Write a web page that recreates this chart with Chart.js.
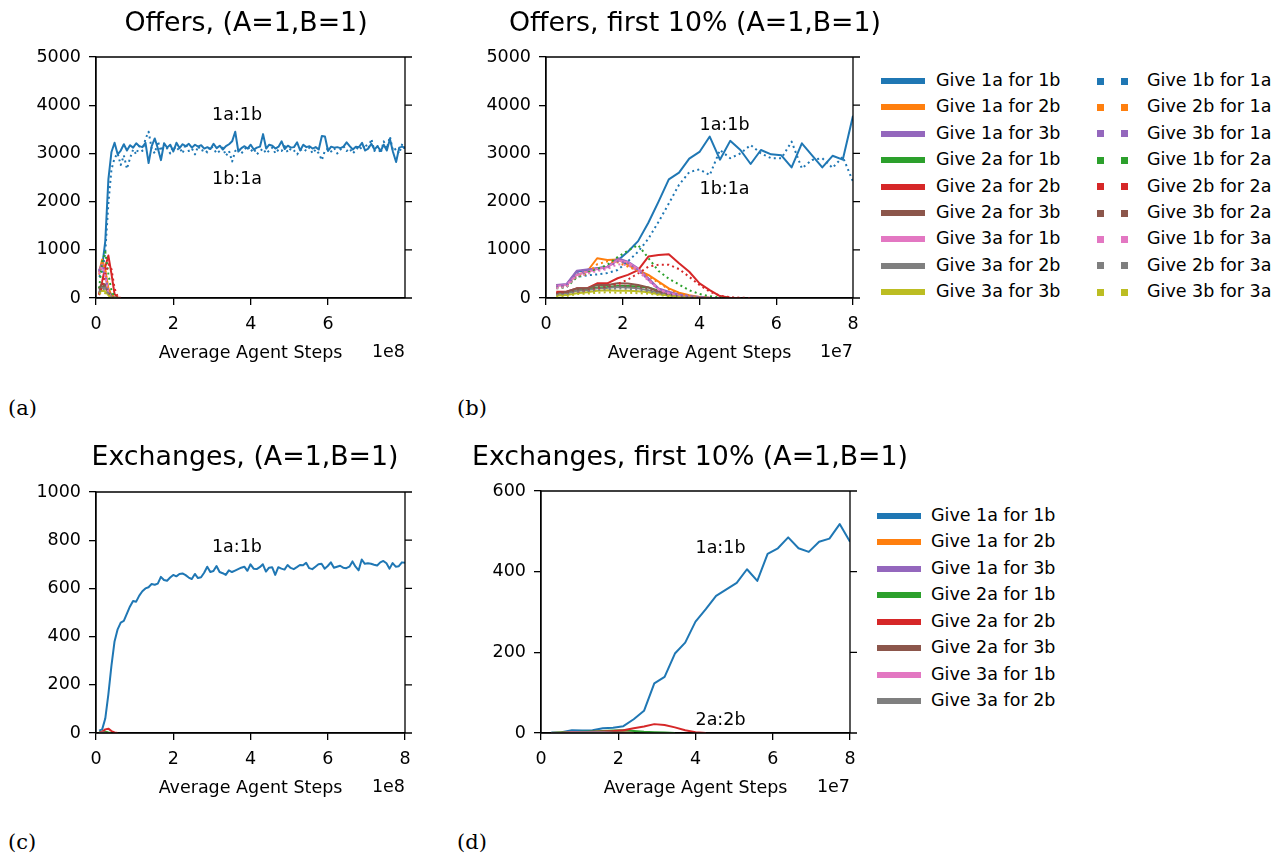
<!DOCTYPE html>
<html>
<head>
<meta charset="utf-8">
<script src="https://cdn.jsdelivr.net/npm/chart.js@4.4.1/dist/chart.umd.min.js"></script>
<style>
body { margin: 0; background: #fff; font-family: 'DejaVu Sans', sans-serif; color: #000; }
#fig { position: relative; width: 1288px; height: 862px; overflow: hidden; }
canvas { position: absolute; }
.t { position: absolute; white-space: nowrap; line-height: 1; }
.title { font-size: 26.8px; transform: translate(-50%, -50%); }
.off { font-size: 17.5px; transform: translate(-100%, -50%); }
.tag { font-family: 'DejaVu Serif', serif; font-size: 21px; transform: translateY(-50%); }
.lt { font-size: 17.5px; transform: translateY(-50%); }
.sw { position: absolute; }
</style>
</head>
<body>
<div id="fig">
  <canvas id="ca" width="430" height="333" style="left:0px;top:35px"></canvas>
  <canvas id="cb" width="425" height="333" style="left:450px;top:35px"></canvas>
  <canvas id="cc" width="430" height="333" style="left:0px;top:470px"></canvas>
  <canvas id="cd" width="425" height="334" style="left:445px;top:469px"></canvas>

  <div class="t title" style="left:246px;top:22px">Offers, (A=1,B=1)</div>
  <div class="t title" style="left:695px;top:22px">Offers, first 10% (A=1,B=1)</div>
  <div class="t title" style="left:245px;top:456px">Exchanges, (A=1,B=1)</div>
  <div class="t title" style="left:690px;top:456px">Exchanges, first 10% (A=1,B=1)</div>

  <div class="t off" style="left:405px;top:352px">1e8</div>
  <div class="t off" style="left:853px;top:352px">1e7</div>
  <div class="t off" style="left:405px;top:787px">1e8</div>
  <div class="t off" style="left:850px;top:787px">1e7</div>

  <div class="t tag" style="left:8px;top:408px">(a)</div>
  <div class="t tag" style="left:457px;top:408px">(b)</div>
  <div class="t tag" style="left:8px;top:842px">(c)</div>
  <div class="t tag" style="left:457px;top:842px">(d)</div>
  <div id="legends"></div>
</div>
<script>
// x positions of the samples (full run in 1e8, first 10% in 1e7)
var STEPS_FULL = [0.08, 0.16, 0.24, 0.32, 0.4, 0.48, 0.56, 0.64, 0.72, 0.8,
  0.88, 0.96, 1.04, 1.12, 1.2, 1.28, 1.36, 1.44, 1.52, 1.6,
  1.68, 1.76, 1.84, 1.92, 2.0, 2.08, 2.16, 2.24, 2.32, 2.4,
  2.48, 2.56, 2.64, 2.72, 2.8, 2.88, 2.96, 3.04, 3.12, 3.2,
  3.28, 3.36, 3.44, 3.52, 3.6, 3.68, 3.76, 3.84, 3.92, 4.0,
  4.08, 4.16, 4.24, 4.32, 4.4, 4.48, 4.56, 4.64, 4.72, 4.8,
  4.88, 4.96, 5.04, 5.12, 5.2, 5.28, 5.36, 5.44, 5.52, 5.6,
  5.68, 5.76, 5.84, 5.92, 6.0, 6.08, 6.16, 6.24, 6.32, 6.4,
  6.48, 6.56, 6.64, 6.72, 6.8, 6.88, 6.96, 7.04, 7.12, 7.2,
  7.28, 7.36, 7.44, 7.52, 7.6, 7.68, 7.76, 7.84, 7.92, 8.0];
var STEPS_FIRST = [0.267, 0.533, 0.8, 1.067, 1.333, 1.6, 1.867, 2.133, 2.4, 2.667,
  2.933, 3.2, 3.467, 3.733, 4.0, 4.267, 4.533, 4.8, 5.067, 5.333,
  5.6, 5.867, 6.133, 6.4, 6.667, 6.933, 7.2, 7.467, 7.733, 8.0];

var SOLID_NAMES = ['Give 1a for 1b', 'Give 1a for 2b', 'Give 1a for 3b', 'Give 2a for 1b', 'Give 2a for 2b',
  'Give 2a for 3b', 'Give 3a for 1b', 'Give 3a for 2b', 'Give 3a for 3b'];
var DOTTED_NAMES = ['Give 1b for 1a', 'Give 2b for 1a', 'Give 3b for 1a', 'Give 1b for 2a', 'Give 2b for 2a',
  'Give 3b for 2a', 'Give 1b for 3a', 'Give 2b for 3a', 'Give 3b for 3a'];
var COLORS = ['#1f77b4', '#ff7f0e', '#9467bd', '#2ca02c', '#d62728', '#8c564b', '#e377c2', '#7f7f7f', '#bcbd22'];

// (a) offers, full run
var A_SOLID = [
  [545, 650, 1180, 2460, 3030, 3220, 2980, 3060, 3190, 3060,
   3170, 3120, 3210, 3150, 3130, 3220, 2800, 3150, 3310, 3100,
   2860, 3210, 3120, 3180, 3040, 3220, 3110, 3190, 3150, 3200,
   3120, 3180, 3140, 3170, 3100, 3130, 3090, 3200, 3110, 3160,
   3080, 3150, 3190, 3250, 3450, 3040, 3110, 3150, 3100, 3180,
   3080, 3120, 3140, 3400, 3100, 3180, 3160, 3100, 3140, 3250,
   3090, 3160, 3120, 3130, 3230, 3060, 3180, 3130, 3150, 3100,
   3130, 3080, 3360, 3350, 3050, 3140, 3120, 3130, 3110, 3140,
   3230, 3150, 3080, 3140, 3130, 3220, 3060, 3100, 3200, 3080,
   3150, 3050, 3180, 3060, 3300, 3030, 2820, 3120, 3140, 3110],
  [530, 800, 580, 200, 60, 10, 0],
  [580, 720, 500, 130, 40, 5, 0],
  [90, 230, 250, 150, 50, 10, 0],
  [80, 350, 650, 880, 500, 80, 10, 0],
  [200, 300, 280, 120, 40, 5, 0],
  [540, 700, 480, 110, 30, 5, 0],
  [150, 220, 220, 90, 30, 5, 0],
  [120, 150, 140, 60, 20, 5, 0]
];
var A_DOTTED = [
  [440, 520, 960, 1960, 2670, 2900, 3000, 2760, 2960, 2680,
   2900, 3080, 2980, 3150, 3050, 3300, 3450, 3100, 3000, 3250,
   3050, 3200, 3100, 3000, 3150, 3060, 3120, 3000, 3200, 3050,
   3100, 2980, 3150, 3050, 3080, 3020, 3160, 3100, 3000, 3050,
   3120, 2950, 3050, 2830, 3050, 3100, 3000, 3080, 3150, 3040,
   3100, 2980, 3050, 3100, 3000, 3060, 3120, 3000, 3080, 3050,
   3150, 3020, 3100, 3060, 2980, 3070, 3100, 3050, 3120, 3000,
   3080, 3000, 2860, 3060, 3100, 3040, 3110, 3000, 3080, 3150,
   3050, 3100, 3000, 3070, 3150, 3080, 3200, 3100, 3300, 3050,
   3150, 3000, 3250, 3100, 3350, 3050, 3100, 3000, 3200, 3050],
  [480, 740, 560, 190, 60, 10, 0],
  [560, 700, 480, 120, 40, 5, 0],
  [200, 750, 960, 500, 150, 20, 0],
  [60, 250, 500, 700, 600, 200, 30, 0],
  [180, 260, 240, 110, 30, 5, 0],
  [500, 650, 450, 100, 30, 5, 0],
  [120, 190, 180, 80, 25, 5, 0],
  [90, 110, 100, 50, 15, 5, 0]
];

// (b) offers, first 10%
var B_SOLID = [
  [270, 270, 545, 580, 615, 650, 780, 960, 1180, 1560, 2000, 2460, 2600, 2890, 3030,
   3350, 2870, 3260, 3070, 2780, 3070, 2980, 2960, 2710, 3210, 2960, 2710, 2950, 2870, 3780],
  [270, 270, 480, 545, 825, 790, 800, 685, 580, 480, 340, 200, 110, 60, 20, 5, 0],
  [270, 290, 565, 590, 615, 650, 825, 755, 615, 410, 200, 130, 75, 40, 20, 5, 0],
  [90, 110, 160, 180, 220, 230, 250, 250, 240, 220, 150, 80, 40, 15, 0],
  [130, 130, 200, 200, 305, 305, 410, 480, 580, 860, 890, 910, 720, 545, 305, 165, 40, 5, 0],
  [100, 130, 200, 200, 270, 270, 305, 300, 270, 220, 130, 75, 40, 15, 0],
  [250, 270, 480, 540, 600, 640, 780, 740, 600, 380, 180, 100, 50, 20, 0],
  [80, 90, 150, 160, 200, 210, 230, 220, 200, 160, 100, 60, 30, 10, 0],
  [50, 60, 100, 120, 150, 160, 150, 150, 140, 120, 80, 50, 25, 10, 0]
];
var B_DOTTED = [
  [220, 260, 440, 470, 490, 520, 580, 760, 960, 1230, 1580, 1960, 2350, 2610, 2670,
   2550, 3070, 2900, 3000, 3175, 3000, 2900, 2900, 3245, 2690, 2865, 2900, 2700, 2930, 2415],
  [220, 240, 440, 500, 700, 760, 740, 650, 560, 450, 320, 180, 90, 40, 10, 0],
  [240, 260, 520, 560, 580, 620, 760, 720, 580, 380, 190, 110, 60, 20, 5, 0],
  [200, 220, 430, 520, 600, 690, 850, 980, 1100, 830, 560, 400, 280, 160, 85, 35, 10, 0],
  [100, 110, 130, 150, 200, 230, 290, 380, 510, 650, 690, 690, 600, 440, 270, 130, 50, 15, 5, 0],
  [80, 110, 170, 180, 230, 240, 260, 250, 230, 190, 120, 70, 35, 10, 0],
  [200, 230, 460, 500, 560, 600, 700, 680, 560, 360, 170, 90, 40, 15, 0],
  [60, 80, 130, 140, 170, 180, 200, 190, 170, 140, 90, 50, 25, 10, 0],
  [30, 40, 80, 90, 110, 120, 110, 110, 100, 90, 60, 40, 20, 5, 0]
];

// (c) exchanges, full run
var C_SERIES = [
  [10, 15, 60, 160, 280, 380, 430, 458, 465, 495,
   525, 548, 545, 570, 588, 600, 605, 618, 615, 620,
   648, 635, 632, 645, 656, 650, 660, 662, 655, 645,
   639, 660, 643, 646, 665, 690, 668, 672, 693, 668,
   663, 656, 675, 668, 674, 680, 686, 690, 673, 700,
   682, 680, 688, 700, 670, 686, 688, 656, 688, 682,
   678, 697, 685, 680, 688, 697, 696, 706, 684, 680,
   690, 700, 702, 682, 693, 708, 686, 690, 694, 686,
   684, 690, 712, 690, 675, 720, 702, 704, 702, 698,
   695, 708, 714, 704, 682, 705, 690, 692, 708, 706],
  [1, 2, 1, 0],
  [0, 1, 1, 0],
  [2, 5, 5, 2, 0],
  [0, 5, 15, 18, 8, 2, 0],
  [0, 1, 1, 0],
  [0, 1, 0],
  [0, 1, 0]
];

// (d) exchanges, first 10%
var D_SERIES = [
  [1, 2, 7, 6, 7, 12, 13, 17, 34, 55, 123, 139, 197, 224, 276,
   307, 340, 356, 372, 406, 377, 444, 458, 485, 458, 449, 474, 482, 518, 474],
  [0, 1, 1, 2, 2, 3, 2, 1, 0],
  [0, 0, 1, 1, 1, 2, 1, 0],
  [0, 1, 2, 3, 4, 5, 6, 7, 5, 3, 2, 1, 0],
  [0, 0, 1, 2, 3, 4, 5, 7, 12, 16, 22, 20, 14, 7, 2, 0],
  [0, 0, 1, 1, 2, 2, 2, 1, 0],
  [0, 0, 1, 1, 1, 1, 0],
  [0, 0, 0, 1, 1, 1, 0]
];

var X_TICKS_A = [0, 2, 4, 6];
var X_TICKS = [0, 2, 4, 6, 8];
var Y_TICKS_OFFERS = [0, 1000, 2000, 3000, 4000, 5000];
var Y_TICKS_EXCH_FULL = [0, 200, 400, 600, 800, 1000];
var Y_TICKS_EXCH_FIRST = [0, 200, 400, 600];

Chart.defaults.font.family = "'DejaVu Sans', sans-serif";
Chart.defaults.color = '#000';

function series(steps, vals, color, dotted, idx) {
  return {
    data: vals.map(function (v, i) { return { x: steps[i], y: v }; }),
    borderColor: color,
    borderWidth: 2,
    borderDash: dotted ? [2, 3.3] : [],
    borderCapStyle: 'butt',
    borderJoinStyle: 'round',
    pointRadius: 0,
    fill: false,
    tension: 0,
    order: -idx
  };
}

var framePlugin = {
  id: 'frame',
  afterDatasetsDraw: function (chart, args, opts) {
    var ctx = chart.ctx, a = chart.chartArea, y = chart.scales.y, x = chart.scales.x;
    ctx.save();
    // annotations
    ctx.fillStyle = '#000';
    ctx.font = "17.5px 'DejaVu Sans'";
    ctx.textAlign = 'left';
    ctx.textBaseline = 'middle';
    (opts.notes || []).forEach(function (n) {
      ctx.fillText(n.text, x.getPixelForValue(n.x), y.getPixelForValue(n.y));
    });
    // box and right ticks
    ctx.strokeStyle = '#000';
    ctx.lineWidth = 1.3;
    ctx.beginPath();
    ctx.rect(a.left, a.top, a.right - a.left, a.bottom - a.top);
    y.ticks.forEach(function (t) {
      var py = y.getPixelForValue(t.value);
      ctx.moveTo(a.right, py);
      ctx.lineTo(a.right + 7, py);
    });
    ctx.stroke();
    ctx.restore();
  }
};

function makePanel(id, geo, xMax, xTicks, yMax, yTicks, datasets, notes) {
  var xh = geo.ch - (geo.bottom - geo.cy);
  return new Chart(document.getElementById(id), {
    type: 'line',
    data: { datasets: datasets },
    options: {
      responsive: false,
      animation: false,
      events: [],
      layout: { padding: { left: 0, top: geo.top - geo.cy, right: geo.cx + geo.cw - geo.right, bottom: 0 } },
      plugins: { legend: { display: false }, tooltip: { enabled: false }, frame: { notes: notes } },
      scales: {
        x: {
          type: 'linear', min: 0, max: xMax,
          afterBuildTicks: function (s) { s.ticks = xTicks.map(function (v) { return { value: v }; }); },
          afterFit: function (s) { s.height = xh; },
          grid: { drawOnChartArea: false, drawTicks: true, tickLength: 7, color: '#000', lineWidth: 1.3 },
          border: { display: true, color: '#000', width: 1.3 },
          ticks: { font: { size: 17.5 }, padding: 9, maxRotation: 0, autoSkip: false,
                   callback: function (v) { return String(v); } },
          title: { display: true, text: 'Average Agent Steps', font: { size: 17.5 }, padding: { top: 0, bottom: 4 } }
        },
        y: {
          type: 'linear', min: 0, max: yMax,
          afterBuildTicks: function (s) { s.ticks = yTicks.map(function (v) { return { value: v }; }); },
          afterFit: function (s) { s.width = geo.left - geo.cx; },
          grid: { drawOnChartArea: false, drawTicks: true, tickLength: 7, color: '#000', lineWidth: 1.3 },
          border: { display: true, color: '#000', width: 1.3 },
          ticks: { font: { size: 17.5 }, padding: 8, autoSkip: false,
                   callback: function (v) { return String(v); } }
        }
      }
    },
    plugins: [framePlugin]
  });
}

function offerSets(steps, solids, dotted) {
  var out = [];
  solids.forEach(function (vals, i) { out.push(series(steps, vals, COLORS[i], false, out.length)); });
  dotted.forEach(function (vals, i) { out.push(series(steps, vals, COLORS[i], true, out.length)); });
  return out;
}
function exchSets(steps, list) {
  return list.map(function (vals, i) { return series(steps, vals, COLORS[i], false, i); });
}

makePanel('ca', { cx: 0, cy: 35, cw: 430, ch: 333, left: 96, right: 405, top: 57, bottom: 298 },
  7.99, X_TICKS_A, 5000, Y_TICKS_OFFERS, offerSets(STEPS_FULL, A_SOLID, A_DOTTED),
  [{ text: '1a:1b', x: 3.0, y: 3780 }, { text: '1b:1a', x: 3.0, y: 2450 }]);
makePanel('cb', { cx: 450, cy: 35, cw: 425, ch: 333, left: 546, right: 853, top: 57, bottom: 298 },
  8, X_TICKS, 5000, Y_TICKS_OFFERS, offerSets(STEPS_FIRST, B_SOLID, B_DOTTED),
  [{ text: '1a:1b', x: 4.0, y: 3570 }, { text: '1b:1a', x: 4.0, y: 2260 }]);
makePanel('cc', { cx: 0, cy: 470, cw: 430, ch: 333, left: 96, right: 405, top: 492, bottom: 733 },
  8, X_TICKS, 1000, Y_TICKS_EXCH_FULL, exchSets(STEPS_FULL, C_SERIES),
  [{ text: '1a:1b', x: 3.0, y: 768 }]);
makePanel('cd', { cx: 445, cy: 469, cw: 425, ch: 334, left: 541, right: 850, top: 491, bottom: 733 },
  8, X_TICKS, 600, Y_TICKS_EXCH_FIRST, exchSets(STEPS_FIRST, D_SERIES),
  [{ text: '1a:1b', x: 4.0, y: 458 }, { text: '2a:2b', x: 4.0, y: 30 }]);

// legends (HTML)
var host = document.getElementById('legends');
function addText(txt, left, cy) {
  var d = document.createElement('div');
  d.className = 't lt';
  d.style.left = left + 'px';
  d.style.top = cy + 'px';
  d.textContent = txt;
  host.appendChild(d);
}
function addBox(left, cy, w, h, color) {
  var d = document.createElement('div');
  d.className = 'sw';
  d.style.left = left + 'px';
  d.style.top = (cy - h / 2) + 'px';
  d.style.width = w + 'px';
  d.style.height = h + 'px';
  d.style.background = color;
  host.appendChild(d);
}
SOLID_NAMES.forEach(function (name, i) {
  var cy = 81 + i * 26.4;
  addBox(881, cy, 44, 6, COLORS[i]);
  addText(name, 936, cy);
  addBox(1097, cy, 7, 7, COLORS[i]);
  addBox(1121, cy, 7, 7, COLORS[i]);
  addText(DOTTED_NAMES[i], 1147, cy);
});
SOLID_NAMES.slice(0, 8).forEach(function (name, i) {
  var cy = 516 + i * 26.45;
  addBox(877, cy, 44, 6, COLORS[i]);
  addText(name, 931, cy);
});
</script>
</body>
</html>
